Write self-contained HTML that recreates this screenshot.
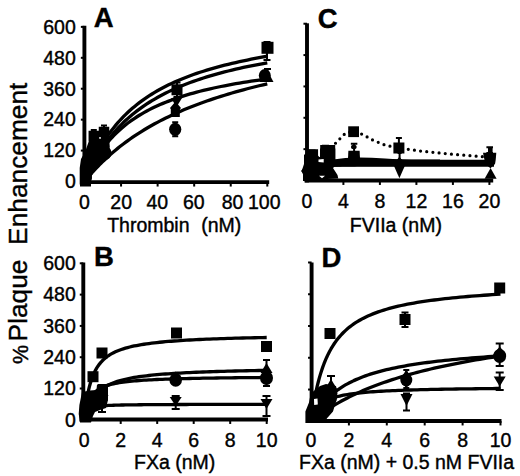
<!DOCTYPE html>
<html><head><meta charset="utf-8"><style>
html,body{margin:0;padding:0;background:#fff;}
svg{display:block;}
text{font-family:"Liberation Sans",sans-serif;fill:#000;stroke:#000;stroke-width:0.4px;}
</style></head><body>
<svg width="520" height="476" viewBox="0 0 520 476">
<rect width="520" height="476" fill="#fff"/>
<line x1="84.4" y1="25.8" x2="84.4" y2="184.04999999999998" stroke="#000" stroke-width="3.9"/>
<line x1="82.5" y1="182.1" x2="269.2" y2="182.1" stroke="#000" stroke-width="3.9"/>
<line x1="80.85000000000001" y1="150.576" x2="84.4" y2="150.576" stroke="#000" stroke-width="2"/>
<line x1="80.85000000000001" y1="119.652" x2="84.4" y2="119.652" stroke="#000" stroke-width="2"/>
<line x1="80.85000000000001" y1="88.72800000000001" x2="84.4" y2="88.72800000000001" stroke="#000" stroke-width="2"/>
<line x1="80.85000000000001" y1="57.804" x2="84.4" y2="57.804" stroke="#000" stroke-width="2"/>
<line x1="80.85000000000001" y1="26.879999999999995" x2="84.4" y2="26.879999999999995" stroke="#000" stroke-width="2"/>
<line x1="121.06" y1="182.1" x2="121.06" y2="186.54999999999998" stroke="#000" stroke-width="2"/>
<line x1="157.62" y1="182.1" x2="157.62" y2="186.54999999999998" stroke="#000" stroke-width="2"/>
<line x1="194.18" y1="182.1" x2="194.18" y2="186.54999999999998" stroke="#000" stroke-width="2"/>
<line x1="230.74" y1="182.1" x2="230.74" y2="186.54999999999998" stroke="#000" stroke-width="2"/>
<line x1="267.3" y1="182.1" x2="267.3" y2="186.54999999999998" stroke="#000" stroke-width="2"/>
<text x="75.8" y="188.3" font-size="19.5" text-anchor="end" font-weight="normal" >0</text>
<text x="75.8" y="157.376" font-size="19.5" text-anchor="end" font-weight="normal" >120</text>
<text x="75.8" y="126.452" font-size="19.5" text-anchor="end" font-weight="normal" >240</text>
<text x="75.8" y="95.528" font-size="19.5" text-anchor="end" font-weight="normal" >360</text>
<text x="75.8" y="64.604" font-size="19.5" text-anchor="end" font-weight="normal" >480</text>
<text x="75.8" y="33.67999999999999" font-size="19.5" text-anchor="end" font-weight="normal" >600</text>
<text x="84.5" y="208.5" font-size="19.5" text-anchor="middle" font-weight="normal" >0</text>
<text x="121.2" y="208.5" font-size="19.5" text-anchor="middle" font-weight="normal" >20</text>
<text x="157.3" y="208.5" font-size="19.5" text-anchor="middle" font-weight="normal" >40</text>
<text x="193.8" y="208.5" font-size="19.5" text-anchor="middle" font-weight="normal" >60</text>
<text x="232.6" y="208.5" font-size="19.5" text-anchor="middle" font-weight="normal" >80</text>
<text x="264.3" y="208.5" font-size="19.5" text-anchor="middle" font-weight="normal" >100</text>
<text x="107.2" y="231.5" font-size="19.5" text-anchor="start" font-weight="normal" >Thrombin</text>
<text x="201.2" y="231.5" font-size="19.5" text-anchor="start" font-weight="normal" >(nM)</text>
<text x="93.8" y="26.9" font-size="27.5" text-anchor="start" font-weight="bold" >A</text>
<polyline points="84.50,181.50 84.57,181.31 84.74,180.85 85.00,180.17 85.33,179.27 85.74,178.19 86.23,176.94 86.78,175.54 87.40,173.99 88.08,172.31 88.83,170.52 89.64,168.62 90.51,166.63 91.44,164.56 92.43,162.42 93.48,160.21 94.59,157.96 95.75,155.67 96.97,153.34 98.25,150.98 99.58,148.61 100.96,146.23 102.40,143.84 103.89,141.45 105.43,139.07 107.03,136.70 108.67,134.35 110.37,132.01 112.12,129.70 113.93,127.41 115.78,125.15 117.68,122.92 119.63,120.73 121.63,118.57 123.68,116.44 125.78,114.35 127.93,112.30 130.12,110.29 132.37,108.32 134.66,106.39 137.00,104.50 139.38,102.64 141.81,100.83 144.29,99.06 146.82,97.32 149.39,95.63 152.01,93.98 154.68,92.36 157.39,90.78 160.14,89.24 162.94,87.74 165.79,86.27 168.68,84.83 171.62,83.44 174.60,82.07 177.63,80.74 180.70,79.44 183.81,78.18 186.97,76.94 190.17,75.74 193.41,74.56 196.70,73.42 200.04,72.30 203.41,71.21 206.83,70.15 210.29,69.11 213.80,68.10 217.35,67.11 220.94,66.15 224.57,65.21 228.24,64.29 231.96,63.40 235.72,62.52 239.52,61.67 243.37,60.84 247.25,60.03 251.18,59.24 255.15,58.46 259.16,57.71 263.21,56.97 267.30,56.25" fill="none" stroke="#000" stroke-width="3.3" stroke-linejoin="round"/>
<polyline points="84.50,181.50 84.57,181.34 84.74,180.94 85.00,180.33 85.33,179.55 85.74,178.61 86.23,177.51 86.78,176.28 87.40,174.91 88.08,173.43 88.83,171.85 89.64,170.17 90.51,168.40 91.44,166.56 92.43,164.64 93.48,162.67 94.59,160.65 95.75,158.58 96.97,156.48 98.25,154.34 99.58,152.19 100.96,150.02 102.40,147.83 103.89,145.64 105.43,143.45 107.03,141.26 108.67,139.08 110.37,136.92 112.12,134.76 113.93,132.62 115.78,130.51 117.68,128.41 119.63,126.34 121.63,124.30 123.68,122.29 125.78,120.30 127.93,118.35 130.12,116.42 132.37,114.53 134.66,112.68 137.00,110.85 139.38,109.06 141.81,107.31 144.29,105.59 146.82,103.90 149.39,102.25 152.01,100.63 154.68,99.05 157.39,97.50 160.14,95.99 162.94,94.50 165.79,93.05 168.68,91.64 171.62,90.25 174.60,88.89 177.63,87.57 180.70,86.28 183.81,85.01 186.97,83.78 190.17,82.57 193.41,81.39 196.70,80.24 200.04,79.11 203.41,78.01 206.83,76.94 210.29,75.89 213.80,74.87 217.35,73.87 220.94,72.89 224.57,71.93 228.24,71.00 231.96,70.09 235.72,69.20 239.52,68.33 243.37,67.48 247.25,66.65 251.18,65.84 255.15,65.04 259.16,64.27 263.21,63.51 267.30,62.77" fill="none" stroke="#000" stroke-width="3.3" stroke-linejoin="round"/>
<polyline points="84.50,181.50 84.57,181.34 84.74,180.93 85.00,180.33 85.33,179.55 85.74,178.60 86.23,177.51 86.78,176.28 87.40,174.93 88.08,173.48 88.83,171.92 89.64,170.28 90.51,168.56 91.44,166.77 92.43,164.93 93.48,163.04 94.59,161.11 95.75,159.15 96.97,157.17 98.25,155.17 99.58,153.16 100.96,151.15 102.40,149.14 103.89,147.13 105.43,145.14 107.03,143.16 108.67,141.19 110.37,139.25 112.12,137.33 113.93,135.44 115.78,133.58 117.68,131.75 119.63,129.94 121.63,128.17 123.68,126.44 125.78,124.74 127.93,123.07 130.12,121.44 132.37,119.84 134.66,118.28 137.00,116.75 139.38,115.26 141.81,113.81 144.29,112.39 146.82,111.00 149.39,109.65 152.01,108.33 154.68,107.04 157.39,105.79 160.14,104.57 162.94,103.38 165.79,102.22 168.68,101.09 171.62,99.99 174.60,98.91 177.63,97.87 180.70,96.85 183.81,95.86 186.97,94.89 190.17,93.95 193.41,93.04 196.70,92.14 200.04,91.27 203.41,90.43 206.83,89.60 210.29,88.80 213.80,88.01 217.35,87.25 220.94,86.50 224.57,85.78 228.24,85.07 231.96,84.38 235.72,83.71 239.52,83.06 243.37,82.42 247.25,81.79 251.18,81.19 255.15,80.59 259.16,80.02 263.21,79.45 267.30,78.90" fill="none" stroke="#000" stroke-width="3.3" stroke-linejoin="round"/>
<polyline points="84.50,181.50 84.57,181.42 84.74,181.20 85.00,180.89 85.33,180.48 85.74,179.98 86.23,179.39 86.78,178.73 87.40,177.99 88.08,177.18 88.83,176.31 89.64,175.37 90.51,174.37 91.44,173.32 92.43,172.22 93.48,171.06 94.59,169.86 95.75,168.62 96.97,167.34 98.25,166.02 99.58,164.67 100.96,163.29 102.40,161.88 103.89,160.45 105.43,158.99 107.03,157.52 108.67,156.02 110.37,154.51 112.12,152.99 113.93,151.46 115.78,149.91 117.68,148.36 119.63,146.81 121.63,145.25 123.68,143.69 125.78,142.13 127.93,140.57 130.12,139.01 132.37,137.45 134.66,135.91 137.00,134.36 139.38,132.83 141.81,131.30 144.29,129.78 146.82,128.27 149.39,126.77 152.01,125.29 154.68,123.81 157.39,122.35 160.14,120.90 162.94,119.47 165.79,118.05 168.68,116.65 171.62,115.26 174.60,113.88 177.63,112.52 180.70,111.18 183.81,109.85 186.97,108.54 190.17,107.24 193.41,105.96 196.70,104.70 200.04,103.46 203.41,102.23 206.83,101.02 210.29,99.82 213.80,98.64 217.35,97.48 220.94,96.33 224.57,95.21 228.24,94.09 231.96,93.00 235.72,91.92 239.52,90.85 243.37,89.80 247.25,88.77 251.18,87.75 255.15,86.75 259.16,85.77 263.21,84.79 267.30,83.84" fill="none" stroke="#000" stroke-width="3.3" stroke-linejoin="round"/>
<rect x="261.50" y="41.80" width="12" height="12" fill="#000"/>
<path d="M267.00 42.00V60.00M263.50 42.00h7M263.50 60.00h7" stroke="#000" stroke-width="2" fill="none"/>
<polygon points="259.50,82.00 273.50,82.00 266.50,69.00" fill="#000"/>
<ellipse cx="264.80" cy="75.50" rx="6" ry="6.5" fill="#000"/>
<path d="M267.50 69.00V80.00M264.00 69.00h7M264.00 80.00h7" stroke="#000" stroke-width="2" fill="none"/>
<rect x="171.50" y="84.30" width="11" height="11" fill="#000"/>
<path d="M177.00 82.60V97.00M173.50 82.60h7M173.50 97.00h7" stroke="#000" stroke-width="2" fill="none"/>
<polygon points="171.00,98.00 182.00,98.00 176.50,107.00" fill="#000"/>
<polygon points="175.50,101.50 181.00,108.00 175.50,114.50 170.00,108.00" fill="#000"/>
<rect x="170.80" y="108.00" width="9" height="9" fill="#000"/>
<ellipse cx="175.20" cy="129.30" rx="6.1" ry="6.6" fill="#000"/>
<path d="M175.20 122.30V136.30M172.20 122.30h6M172.20 136.30h6" stroke="#000" stroke-width="2" fill="none"/>
<rect x="88.55" y="130.75" width="10.5" height="10.5" fill="#000"/>
<path d="M93.80 130.00V141.00M90.80 130.00h6M90.80 141.00h6" stroke="#000" stroke-width="2" fill="none"/>
<rect x="98.75" y="126.75" width="10.5" height="10.5" fill="#000"/>
<path d="M104.00 125.50V138.00M101.00 125.50h6M101.00 138.00h6" stroke="#000" stroke-width="2" fill="none"/>
<ellipse cx="98.00" cy="146.00" rx="7" ry="7.5" fill="#000"/>
<polygon points="101.00,143.00 107.00,150.00 101.00,157.00 95.00,150.00" fill="#000"/>
<ellipse cx="105.00" cy="153.00" rx="6.5" ry="7.0" fill="#000"/>
<ellipse cx="96.00" cy="158.00" rx="7" ry="7.5" fill="#000"/>
<polygon points="85.50,166.00 98.50,166.00 92.00,154.00" fill="#000"/>
<ellipse cx="90.00" cy="166.00" rx="6.5" ry="7.0" fill="#000"/>
<polygon points="88.00,166.00 93.00,172.00 88.00,178.00 83.00,172.00" fill="#000"/>
<ellipse cx="86.00" cy="178.00" rx="6" ry="6.5" fill="#000"/>
<rect x="80.00" y="175.50" width="11" height="11" fill="#000"/>
<polygon points="81.00,170.00 93.00,170.00 87.00,180.00" fill="#000"/>
<polygon points="88.9,141 98,139 109,137.5 109.8,147 108,153 106.5,160 102,163 98.7,167 93,172 91,179 91,184.5 79.7,184.5 79.7,168 81,159 85.3,151.3" fill="#000"/>
<line x1="83.3" y1="262.6" x2="83.3" y2="421.45" stroke="#000" stroke-width="3.9"/>
<line x1="81.7" y1="419.5" x2="268.0" y2="419.5" stroke="#000" stroke-width="3.9"/>
<line x1="79.75" y1="388.504" x2="83.3" y2="388.504" stroke="#000" stroke-width="2"/>
<line x1="79.75" y1="357.208" x2="83.3" y2="357.208" stroke="#000" stroke-width="2"/>
<line x1="79.75" y1="325.91200000000003" x2="83.3" y2="325.91200000000003" stroke="#000" stroke-width="2"/>
<line x1="79.75" y1="294.61600000000004" x2="83.3" y2="294.61600000000004" stroke="#000" stroke-width="2"/>
<line x1="79.75" y1="263.32000000000005" x2="83.3" y2="263.32000000000005" stroke="#000" stroke-width="2"/>
<line x1="120.7" y1="419.5" x2="120.7" y2="423.95" stroke="#000" stroke-width="2"/>
<line x1="157.2" y1="419.5" x2="157.2" y2="423.95" stroke="#000" stroke-width="2"/>
<line x1="193.7" y1="419.5" x2="193.7" y2="423.95" stroke="#000" stroke-width="2"/>
<line x1="230.2" y1="419.5" x2="230.2" y2="423.95" stroke="#000" stroke-width="2"/>
<line x1="266.7" y1="419.5" x2="266.7" y2="423.95" stroke="#000" stroke-width="2"/>
<text x="75.8" y="426.6" font-size="19.5" text-anchor="end" font-weight="normal" >0</text>
<text x="75.8" y="395.30400000000003" font-size="19.5" text-anchor="end" font-weight="normal" >120</text>
<text x="75.8" y="364.00800000000004" font-size="19.5" text-anchor="end" font-weight="normal" >240</text>
<text x="75.8" y="332.71200000000005" font-size="19.5" text-anchor="end" font-weight="normal" >360</text>
<text x="75.8" y="301.41600000000005" font-size="19.5" text-anchor="end" font-weight="normal" >480</text>
<text x="75.8" y="270.12000000000006" font-size="19.5" text-anchor="end" font-weight="normal" >600</text>
<text x="84.2" y="446.5" font-size="19.5" text-anchor="middle" font-weight="normal" >0</text>
<text x="120.7" y="446.5" font-size="19.5" text-anchor="middle" font-weight="normal" >2</text>
<text x="157.2" y="446.5" font-size="19.5" text-anchor="middle" font-weight="normal" >4</text>
<text x="193.7" y="446.5" font-size="19.5" text-anchor="middle" font-weight="normal" >6</text>
<text x="230.2" y="446.5" font-size="19.5" text-anchor="middle" font-weight="normal" >8</text>
<text x="266.7" y="446.5" font-size="19.5" text-anchor="middle" font-weight="normal" >10</text>
<text x="134" y="468.5" font-size="19.5" text-anchor="start" font-weight="normal" >FXa (nM)</text>
<text x="93.9" y="266" font-size="27.5" text-anchor="start" font-weight="bold" >B</text>
<polyline points="84.20,419.80 84.27,419.10 84.44,417.40 84.69,414.96 85.03,411.97 85.44,408.61 85.92,405.01 86.47,401.30 87.09,397.57 87.78,393.90 88.52,390.34 89.33,386.93 90.20,383.70 91.13,380.65 92.12,377.79 93.17,375.11 94.27,372.63 95.43,370.32 96.65,368.17 97.92,366.18 99.25,364.34 100.63,362.63 102.07,361.04 103.56,359.57 105.10,358.21 106.69,356.94 108.34,355.77 110.03,354.67 111.78,353.65 113.58,352.70 115.43,351.81 117.32,350.99 119.27,350.21 121.27,349.49 123.32,348.81 125.41,348.17 127.56,347.57 129.75,347.01 131.99,346.48 134.27,345.98 136.61,345.51 138.99,345.06 141.42,344.64 143.90,344.25 146.42,343.87 148.99,343.51 151.60,343.18 154.26,342.86 156.97,342.55 159.72,342.26 162.52,341.99 165.36,341.72 168.24,341.47 171.18,341.24 174.15,341.01 177.17,340.79 180.24,340.59 183.35,340.39 186.50,340.20 189.70,340.02 192.94,339.84 196.22,339.68 199.55,339.52 202.92,339.36 206.33,339.22 209.79,339.07 213.29,338.94 216.83,338.81 220.41,338.68 224.04,338.56 227.71,338.44 231.42,338.33 235.17,338.22 238.97,338.12 242.81,338.02 246.68,337.92 250.60,337.83 254.57,337.74 258.57,337.65 262.61,337.56 266.70,337.48" fill="none" stroke="#000" stroke-width="3.3" stroke-linejoin="round"/>
<polyline points="84.20,419.80 84.27,419.51 84.44,418.81 84.69,417.78 85.03,416.50 85.44,415.01 85.92,413.38 86.47,411.65 87.09,409.85 87.78,408.02 88.52,406.20 89.33,404.39 90.20,402.63 91.13,400.92 92.12,399.27 93.17,397.69 94.27,396.19 95.43,394.75 96.65,393.40 97.92,392.11 99.25,390.90 100.63,389.75 102.07,388.68 103.56,387.66 105.10,386.70 106.69,385.80 108.34,384.96 110.03,384.16 111.78,383.41 113.58,382.70 115.43,382.04 117.32,381.41 119.27,380.82 121.27,380.26 123.32,379.73 125.41,379.23 127.56,378.76 129.75,378.31 131.99,377.89 134.27,377.49 136.61,377.11 138.99,376.75 141.42,376.41 143.90,376.09 146.42,375.78 148.99,375.49 151.60,375.21 154.26,374.94 156.97,374.69 159.72,374.45 162.52,374.22 165.36,374.00 168.24,373.79 171.18,373.59 174.15,373.39 177.17,373.21 180.24,373.03 183.35,372.86 186.50,372.70 189.70,372.55 192.94,372.40 196.22,372.25 199.55,372.11 202.92,371.98 206.33,371.86 209.79,371.73 213.29,371.61 216.83,371.50 220.41,371.39 224.04,371.29 227.71,371.18 231.42,371.09 235.17,370.99 238.97,370.90 242.81,370.81 246.68,370.73 250.60,370.64 254.57,370.56 258.57,370.49 262.61,370.41 266.70,370.34" fill="none" stroke="#000" stroke-width="3.3" stroke-linejoin="round"/>
<polyline points="84.20,419.80 84.27,419.34 84.44,418.22 84.69,416.65 85.03,414.76 85.44,412.67 85.92,410.49 86.47,408.30 87.09,406.14 87.78,404.08 88.52,402.12 89.33,400.28 90.20,398.58 91.13,397.00 92.12,395.55 93.17,394.21 94.27,392.99 95.43,391.87 96.65,390.84 97.92,389.90 99.25,389.04 100.63,388.25 102.07,387.52 103.56,386.86 105.10,386.24 106.69,385.68 108.34,385.15 110.03,384.67 111.78,384.22 113.58,383.81 115.43,383.43 117.32,383.07 119.27,382.74 121.27,382.43 123.32,382.14 125.41,381.87 127.56,381.61 129.75,381.37 131.99,381.15 134.27,380.94 136.61,380.75 138.99,380.56 141.42,380.39 143.90,380.22 146.42,380.06 148.99,379.92 151.60,379.78 154.26,379.65 156.97,379.52 159.72,379.40 162.52,379.29 165.36,379.18 168.24,379.08 171.18,378.98 174.15,378.89 177.17,378.80 180.24,378.72 183.35,378.64 186.50,378.56 189.70,378.49 192.94,378.42 196.22,378.35 199.55,378.28 202.92,378.22 206.33,378.16 209.79,378.11 213.29,378.05 216.83,378.00 220.41,377.95 224.04,377.90 227.71,377.85 231.42,377.81 235.17,377.76 238.97,377.72 242.81,377.68 246.68,377.64 250.60,377.61 254.57,377.57 258.57,377.53 262.61,377.50 266.70,377.47" fill="none" stroke="#000" stroke-width="3.3" stroke-linejoin="round"/>
<polyline points="84.20,419.80 84.27,419.33 84.44,418.26 84.69,416.92 85.03,415.50 85.44,414.14 85.92,412.91 86.47,411.83 87.09,410.89 87.78,410.10 88.52,409.41 89.33,408.83 90.20,408.34 91.13,407.91 92.12,407.54 93.17,407.22 94.27,406.95 95.43,406.70 96.65,406.49 97.92,406.31 99.25,406.14 100.63,405.99 102.07,405.86 103.56,405.74 105.10,405.64 106.69,405.54 108.34,405.45 110.03,405.37 111.78,405.30 113.58,405.24 115.43,405.18 117.32,405.12 119.27,405.07 121.27,405.02 123.32,404.98 125.41,404.94 127.56,404.90 129.75,404.87 131.99,404.84 134.27,404.81 136.61,404.78 138.99,404.75 141.42,404.73 143.90,404.71 146.42,404.68 148.99,404.66 151.60,404.64 154.26,404.63 156.97,404.61 159.72,404.59 162.52,404.58 165.36,404.56 168.24,404.55 171.18,404.54 174.15,404.52 177.17,404.51 180.24,404.50 183.35,404.49 186.50,404.48 189.70,404.47 192.94,404.46 196.22,404.45 199.55,404.44 202.92,404.44 206.33,404.43 209.79,404.42 213.29,404.41 216.83,404.41 220.41,404.40 224.04,404.39 227.71,404.39 231.42,404.38 235.17,404.38 238.97,404.37 242.81,404.37 246.68,404.36 250.60,404.36 254.57,404.35 258.57,404.35 262.61,404.34 266.70,404.34" fill="none" stroke="#000" stroke-width="3.3" stroke-linejoin="round"/>
<rect x="87.50" y="371.20" width="11" height="11" fill="#000"/>
<rect x="96.50" y="347.50" width="11" height="11" fill="#000"/>
<rect x="171.00" y="327.50" width="11" height="11" fill="#000"/>
<rect x="261.00" y="341.00" width="11" height="11" fill="#000"/>
<ellipse cx="175.70" cy="380.00" rx="6.3" ry="6.8" fill="#000"/>
<polygon points="175.70,371.50 181.70,378.00 175.70,384.50 169.70,378.00" fill="#000"/>
<polygon points="169.70,397.00 181.70,397.00 175.70,406.00" fill="#000"/>
<path d="M175.70 396.00V409.00M171.70 396.00h8M171.70 409.00h8" stroke="#000" stroke-width="2" fill="none"/>
<polygon points="260.50,373.00 272.50,373.00 266.50,363.00" fill="#000"/>
<path d="M266.50 360.00V386.00M263.00 360.00h7M263.00 386.00h7" stroke="#000" stroke-width="2" fill="none"/>
<polygon points="266.50,369.00 272.50,376.00 266.50,383.00 260.50,376.00" fill="#000"/>
<ellipse cx="266.50" cy="378.00" rx="6.5" ry="7.0" fill="#000"/>
<polygon points="260.50,399.00 272.50,399.00 266.50,409.00" fill="#000"/>
<path d="M266.50 396.00V416.00M262.50 396.00h8M262.50 416.00h8" stroke="#000" stroke-width="2" fill="none"/>
<polygon points="95.50,396.00 108.50,396.00 102.00,384.00" fill="#000"/>
<ellipse cx="101.00" cy="396.00" rx="7" ry="7.5" fill="#000"/>
<polygon points="102.00,393.00 108.00,400.00 102.00,407.00 96.00,400.00" fill="#000"/>
<path d="M102.00 385.00V412.00M98.00 385.00h8M98.00 412.00h8" stroke="#000" stroke-width="2" fill="none"/>
<ellipse cx="92.00" cy="398.00" rx="6.5" ry="7.0" fill="#000"/>
<polygon points="90.00,397.50 95.50,404.00 90.00,410.50 84.50,404.00" fill="#000"/>
<ellipse cx="87.00" cy="410.00" rx="6.5" ry="7.0" fill="#000"/>
<rect x="79.50" y="410.50" width="11" height="11" fill="#000"/>
<polygon points="81.00,408.00 93.00,408.00 87.00,418.00" fill="#000"/>
<polygon points="82,392 90,390.5 96.5,390 97,384.5 108,384.5 108,400 106,408 100,410 95,412 93,416 91,422.5 80,422.5 78.7,414 79.4,405" fill="#000"/>
<line x1="307.0" y1="23.3" x2="307.0" y2="182.45" stroke="#000" stroke-width="3.9"/>
<line x1="304.5" y1="180.5" x2="493.2" y2="180.5" stroke="#000" stroke-width="3.9"/>
<line x1="303.45" y1="149.144" x2="307.0" y2="149.144" stroke="#000" stroke-width="2"/>
<line x1="303.45" y1="117.78800000000001" x2="307.0" y2="117.78800000000001" stroke="#000" stroke-width="2"/>
<line x1="303.45" y1="86.432" x2="307.0" y2="86.432" stroke="#000" stroke-width="2"/>
<line x1="303.45" y1="55.07600000000001" x2="307.0" y2="55.07600000000001" stroke="#000" stroke-width="2"/>
<line x1="303.45" y1="23.720000000000027" x2="307.0" y2="23.720000000000027" stroke="#000" stroke-width="2"/>
<line x1="343.4" y1="180.5" x2="343.4" y2="184.95" stroke="#000" stroke-width="2"/>
<line x1="379.9" y1="180.5" x2="379.9" y2="184.95" stroke="#000" stroke-width="2"/>
<line x1="416.4" y1="180.5" x2="416.4" y2="184.95" stroke="#000" stroke-width="2"/>
<line x1="452.9" y1="180.5" x2="452.9" y2="184.95" stroke="#000" stroke-width="2"/>
<line x1="489.4" y1="180.5" x2="489.4" y2="184.95" stroke="#000" stroke-width="2"/>
<text x="306.9" y="207.5" font-size="19.5" text-anchor="middle" font-weight="normal" >0</text>
<text x="343.4" y="207.5" font-size="19.5" text-anchor="middle" font-weight="normal" >4</text>
<text x="379.9" y="207.5" font-size="19.5" text-anchor="middle" font-weight="normal" >8</text>
<text x="416.4" y="207.5" font-size="19.5" text-anchor="middle" font-weight="normal" >12</text>
<text x="452.9" y="207.5" font-size="19.5" text-anchor="middle" font-weight="normal" >16</text>
<text x="489.4" y="207.5" font-size="19.5" text-anchor="middle" font-weight="normal" >20</text>
<text x="349.8" y="231.5" font-size="19.5" text-anchor="start" font-weight="normal" >FVIIa (nM)</text>
<text x="317.7" y="27.5" font-size="27.5" text-anchor="start" font-weight="bold" >C</text>
<path d="M322.0 156.0 L329.0 150.0 L336.9 141.8 L345.7 132.9 L353.5 131.4 L362.6 134.4 L372.9 140.2 L385.4 145.2 L398.8 148.0 L420.0 151.0 L445.2 153.6 L470.0 155.7 L489.5 157.3" fill="none" stroke="#000" stroke-width="3.2" stroke-linecap="round" stroke-dasharray="0 6.2"/>
<line x1="330" y1="161.3" x2="494" y2="161.3" stroke="#000" stroke-width="3"/>
<line x1="330" y1="163.4" x2="494" y2="163.4" stroke="#000" stroke-width="3"/>
<line x1="330" y1="165.3" x2="494" y2="165.3" stroke="#000" stroke-width="3"/>
<polyline points="306.90,180.50 306.97,180.17 307.14,179.41 307.39,178.38 307.73,177.21 308.14,175.99 308.62,174.80 309.17,173.68 309.79,172.64 310.48,171.71 311.22,170.87 312.03,170.12 312.90,169.45 313.83,168.86 314.82,168.34 315.87,167.87 316.97,167.46 318.13,167.09 319.35,166.76 320.62,166.46 321.95,166.20 323.33,165.96 324.77,165.75 326.26,165.55 327.80,165.37 329.39,165.21 331.04,165.07 332.73,164.93 334.48,164.81 336.28,164.70 338.13,164.59 340.02,164.50 341.97,164.41 343.97,164.32 346.02,164.25 348.11,164.18 350.26,164.11 352.45,164.05 354.69,163.99 356.97,163.94 359.31,163.89 361.69,163.84 364.12,163.80 366.60,163.76 369.12,163.72 371.69,163.68 374.30,163.64 376.96,163.61 379.67,163.58 382.42,163.55 385.22,163.52 388.06,163.50 390.94,163.47 393.88,163.45 396.85,163.42 399.87,163.40 402.94,163.38 406.05,163.36 409.20,163.34 412.40,163.33 415.64,163.31 418.92,163.29 422.25,163.28 425.62,163.26 429.03,163.25 432.49,163.23 435.99,163.22 439.53,163.21 443.11,163.20 446.74,163.18 450.41,163.17 454.12,163.16 457.87,163.15 461.67,163.14 465.51,163.13 469.38,163.12 473.30,163.11 477.27,163.10 481.27,163.10 485.31,163.09 489.40,163.08" fill="none" stroke="#000" stroke-width="3" stroke-linejoin="round"/>
<polyline points="306.90,180.50 306.97,179.91 307.14,178.63 307.39,177.04 307.73,175.43 308.14,173.94 308.62,172.63 309.17,171.51 309.79,170.57 310.48,169.77 311.22,169.11 312.03,168.55 312.90,168.08 313.83,167.68 314.82,167.33 315.87,167.04 316.97,166.78 318.13,166.56 319.35,166.37 320.62,166.20 321.95,166.05 323.33,165.92 324.77,165.80 326.26,165.70 327.80,165.60 329.39,165.52 331.04,165.44 332.73,165.37 334.48,165.30 336.28,165.25 338.13,165.19 340.02,165.15 341.97,165.10 343.97,165.06 346.02,165.02 348.11,164.99 350.26,164.95 352.45,164.92 354.69,164.90 356.97,164.87 359.31,164.84 361.69,164.82 364.12,164.80 366.60,164.78 369.12,164.76 371.69,164.74 374.30,164.73 376.96,164.71 379.67,164.70 382.42,164.68 385.22,164.67 388.06,164.66 390.94,164.64 393.88,164.63 396.85,164.62 399.87,164.61 402.94,164.60 406.05,164.59 409.20,164.58 412.40,164.57 415.64,164.57 418.92,164.56 422.25,164.55 425.62,164.54 429.03,164.54 432.49,164.53 435.99,164.53 439.53,164.52 443.11,164.51 446.74,164.51 450.41,164.50 454.12,164.50 457.87,164.49 461.67,164.49 465.51,164.48 469.38,164.48 473.30,164.48 477.27,164.47 481.27,164.47 485.31,164.46 489.40,164.46" fill="none" stroke="#000" stroke-width="3" stroke-linejoin="round"/>
<rect x="348.20" y="126.30" width="10.8" height="10.8" fill="#000"/>
<rect x="393.40" y="142.50" width="11" height="11" fill="#000"/>
<path d="M398.90 138.00V150.00M395.90 138.00h6M395.90 150.00h6" stroke="#000" stroke-width="2" fill="none"/>
<path d="M354.10 143.80V152.00M350.85 143.80h6.5M350.85 152.00h6.5" stroke="#000" stroke-width="2" fill="none"/>
<ellipse cx="353.8" cy="147" rx="2.8" ry="2.2" fill="#000"/>
<polygon points="348.4,150.8 359.6,150.8 360,158 348,158" fill="#000"/>
<path d="M334 161 C345 158.8, 365 158.5, 385 160 S 420 161, 440 161" fill="none" stroke="#000" stroke-width="3"/>
<polygon points="399.40,156.50 404.65,164.00 399.40,171.50 394.15,164.00" fill="#000"/>
<polygon points="393.90,165.75 404.90,165.75 399.40,178.25" fill="#000"/>
<path d="M399.60 153.00V160.00M397.60 153.00h4M397.60 160.00h4" stroke="#000" stroke-width="2" fill="none"/>
<path d="M489.70 147.30V153.00M486.40 147.30h6.6M486.40 153.00h6.6" stroke="#000" stroke-width="2" fill="none"/>
<rect x="488" y="148" width="4.6" height="5.5" fill="#000"/>
<polygon points="483,152.8 496.3,152.8 495.7,160 495,164 490.4,168.3 485.5,164 484.5,160" fill="#000"/>
<polygon points="484.60,178.80 496.60,178.80 490.60,168.00" fill="#000"/>
<rect x="308.55" y="149.25" width="9.5" height="9.5" fill="#000"/>
<path d="M313.30 151.00V158.00M309.80 151.00h7M309.80 158.00h7" stroke="#000" stroke-width="2" fill="none"/>
<rect x="320.20" y="145.00" width="15" height="15" fill="#000"/>
<path d="M327.70 146.00V155.00M323.70 146.00h8M323.70 155.00h8" stroke="#000" stroke-width="2" fill="none"/>
<polygon points="323.00,178.00 337.00,178.00 330.00,168.00" fill="#000"/>
<polygon points="311.50,178.00 324.50,178.00 318.00,168.00" fill="#000"/>
<polygon points="307.00,164.00 313.00,171.00 307.00,178.00 301.00,171.00" fill="#000"/>
<ellipse cx="312.00" cy="165.00" rx="6.5" ry="7.0" fill="#000"/>
<ellipse cx="322.00" cy="164.00" rx="6.5" ry="7.0" fill="#000"/>
<polygon points="317.00,154.50 323.00,161.00 317.00,167.50 311.00,161.00" fill="#000"/>
<rect x="303.00" y="171.00" width="10" height="10" fill="#000"/>
<polygon points="306.00,174.00 316.00,174.00 311.00,182.00" fill="#000"/>
<polygon points="304,155 308.5,150.5 316,150.5 316,157 320,157 320,148.4 335.3,148.4 335.3,160 336,165 333,168 337.5,175 338.3,178.5 304,180 304,177 301.7,171 304,164" fill="#000"/>
<path d="M312.00 150.50V156.00M308.50 150.50h7M308.50 156.00h7" stroke="#000" stroke-width="2" fill="none"/>
<path d="M325.50 145.80V150.00M322.00 145.80h7M322.00 150.00h7" stroke="#000" stroke-width="2" fill="none"/>
<polygon points="318.5,159.5 323.7,159 323.7,162.5 318.5,162" fill="#fff"/>
<polygon points="319,175.7 325,175.7 322,178.3" fill="#fff"/>
<line x1="311.6" y1="262.6" x2="311.6" y2="422.95" stroke="#000" stroke-width="3.9"/>
<line x1="309.2" y1="421.0" x2="501.5" y2="421.0" stroke="#000" stroke-width="3.9"/>
<line x1="308.05" y1="389.536" x2="311.6" y2="389.536" stroke="#000" stroke-width="2"/>
<line x1="308.05" y1="357.772" x2="311.6" y2="357.772" stroke="#000" stroke-width="2"/>
<line x1="308.05" y1="326.00800000000004" x2="311.6" y2="326.00800000000004" stroke="#000" stroke-width="2"/>
<line x1="308.05" y1="294.244" x2="311.6" y2="294.244" stroke="#000" stroke-width="2"/>
<line x1="308.05" y1="262.48" x2="311.6" y2="262.48" stroke="#000" stroke-width="2"/>
<line x1="348.9" y1="421.0" x2="348.9" y2="425.45" stroke="#000" stroke-width="2"/>
<line x1="386.8" y1="421.0" x2="386.8" y2="425.45" stroke="#000" stroke-width="2"/>
<line x1="424.7" y1="421.0" x2="424.7" y2="425.45" stroke="#000" stroke-width="2"/>
<line x1="462.6" y1="421.0" x2="462.6" y2="425.45" stroke="#000" stroke-width="2"/>
<line x1="500.5" y1="421.0" x2="500.5" y2="425.45" stroke="#000" stroke-width="2"/>
<text x="311.0" y="446.5" font-size="19.5" text-anchor="middle" font-weight="normal" >0</text>
<text x="348.9" y="446.5" font-size="19.5" text-anchor="middle" font-weight="normal" >2</text>
<text x="386.8" y="446.5" font-size="19.5" text-anchor="middle" font-weight="normal" >4</text>
<text x="424.7" y="446.5" font-size="19.5" text-anchor="middle" font-weight="normal" >6</text>
<text x="462.6" y="446.5" font-size="19.5" text-anchor="middle" font-weight="normal" >8</text>
<text x="500.5" y="446.5" font-size="19.5" text-anchor="middle" font-weight="normal" >10</text>
<text x="299" y="469" font-size="19.5" text-anchor="start" font-weight="normal" >FXa (nM) + 0.5 nM FVIIa</text>
<text x="321.4" y="266.7" font-size="27.5" text-anchor="start" font-weight="bold" >D</text>
<polyline points="311.00,421.30 311.07,420.77 311.25,419.46 311.51,417.53 311.86,415.09 312.29,412.23 312.79,409.01 313.36,405.53 314.00,401.84 314.71,398.01 315.49,394.09 316.33,390.14 317.23,386.19 318.20,382.27 319.22,378.41 320.31,374.63 321.46,370.96 322.66,367.40 323.93,363.96 325.25,360.64 326.63,357.46 328.06,354.41 329.55,351.49 331.10,348.70 332.70,346.04 334.35,343.50 336.06,341.08 337.82,338.77 339.64,336.58 341.50,334.49 343.42,332.50 345.40,330.61 347.42,328.82 349.49,327.10 351.62,325.47 353.79,323.92 356.02,322.45 358.29,321.04 360.62,319.70 363.00,318.42 365.42,317.20 367.89,316.04 370.41,314.93 372.99,313.87 375.60,312.86 378.27,311.89 380.99,310.97 383.75,310.08 386.56,309.24 389.42,308.43 392.32,307.65 395.27,306.91 398.27,306.20 401.31,305.51 404.40,304.86 407.54,304.23 410.72,303.62 413.95,303.04 417.22,302.48 420.54,301.94 423.91,301.43 427.32,300.93 430.77,300.45 434.27,299.99 437.82,299.54 441.40,299.12 445.04,298.70 448.72,298.30 452.44,297.92 456.20,297.55 460.01,297.19 463.87,296.84 467.76,296.50 471.70,296.18 475.69,295.87 479.72,295.56 483.79,295.27 487.90,294.98 492.06,294.71 496.26,294.44 500.50,294.18" fill="none" stroke="#000" stroke-width="3.3" stroke-linejoin="round"/>
<polyline points="311.00,421.30 311.07,421.16 311.25,420.82 311.51,420.31 311.86,419.65 312.29,418.87 312.79,417.96 313.36,416.95 314.00,415.85 314.71,414.67 315.49,413.42 316.33,412.12 317.23,410.77 318.20,409.38 319.22,407.96 320.31,406.53 321.46,405.08 322.66,403.63 323.93,402.17 325.25,400.72 326.63,399.28 328.06,397.86 329.55,396.45 331.10,395.07 332.70,393.70 334.35,392.37 336.06,391.06 337.82,389.78 339.64,388.52 341.50,387.30 343.42,386.11 345.40,384.95 347.42,383.82 349.49,382.72 351.62,381.66 353.79,380.62 356.02,379.62 358.29,378.64 360.62,377.69 363.00,376.78 365.42,375.89 367.89,375.03 370.41,374.19 372.99,373.38 375.60,372.60 378.27,371.84 380.99,371.11 383.75,370.40 386.56,369.71 389.42,369.04 392.32,368.40 395.27,367.77 398.27,367.16 401.31,366.58 404.40,366.01 407.54,365.46 410.72,364.92 413.95,364.41 417.22,363.90 420.54,363.42 423.91,362.95 427.32,362.49 430.77,362.05 434.27,361.62 437.82,361.20 441.40,360.79 445.04,360.40 448.72,360.02 452.44,359.65 456.20,359.29 460.01,358.94 463.87,358.60 467.76,358.27 471.70,357.95 475.69,357.64 479.72,357.34 483.79,357.04 487.90,356.76 492.06,356.48 496.26,356.21 500.50,355.94" fill="none" stroke="#000" stroke-width="3.3" stroke-linejoin="round"/>
<polyline points="311.00,421.30 311.07,421.24 311.25,421.10 311.51,420.89 311.86,420.61 312.29,420.27 312.79,419.87 313.36,419.43 314.00,418.93 314.71,418.38 315.49,417.79 316.33,417.16 317.23,416.48 318.20,415.77 319.22,415.03 320.31,414.25 321.46,413.44 322.66,412.60 323.93,411.74 325.25,410.85 326.63,409.94 328.06,409.01 329.55,408.06 331.10,407.10 332.70,406.12 334.35,405.13 336.06,404.12 337.82,403.11 339.64,402.08 341.50,401.05 343.42,400.02 345.40,398.98 347.42,397.93 349.49,396.89 351.62,395.84 353.79,394.79 356.02,393.75 358.29,392.70 360.62,391.66 363.00,390.63 365.42,389.60 367.89,388.57 370.41,387.55 372.99,386.53 375.60,385.52 378.27,384.52 380.99,383.53 383.75,382.55 386.56,381.57 389.42,380.61 392.32,379.65 395.27,378.71 398.27,377.77 401.31,376.84 404.40,375.93 407.54,375.02 410.72,374.13 413.95,373.25 417.22,372.37 420.54,371.51 423.91,370.66 427.32,369.82 430.77,369.00 434.27,368.18 437.82,367.38 441.40,366.58 445.04,365.80 448.72,365.03 452.44,364.27 456.20,363.52 460.01,362.78 463.87,362.06 467.76,361.34 471.70,360.64 475.69,359.94 479.72,359.26 483.79,358.59 487.90,357.92 492.06,357.27 496.26,356.63 500.50,356.00" fill="none" stroke="#000" stroke-width="3.3" stroke-linejoin="round"/>
<polyline points="311.00,421.30 311.07,421.07 311.25,420.52 311.51,419.71 311.86,418.71 312.29,417.57 312.79,416.33 313.36,415.03 314.00,413.70 314.71,412.37 315.49,411.06 316.33,409.78 317.23,408.54 318.20,407.36 319.22,406.24 320.31,405.17 321.46,404.17 322.66,403.22 323.93,402.33 325.25,401.50 326.63,400.72 328.06,399.99 329.55,399.31 331.10,398.68 332.70,398.08 334.35,397.52 336.06,397.00 337.82,396.52 339.64,396.06 341.50,395.63 343.42,395.23 345.40,394.86 347.42,394.50 349.49,394.17 351.62,393.86 353.79,393.56 356.02,393.29 358.29,393.03 360.62,392.78 363.00,392.55 365.42,392.32 367.89,392.12 370.41,391.92 372.99,391.73 375.60,391.55 378.27,391.39 380.99,391.23 383.75,391.07 386.56,390.93 389.42,390.79 392.32,390.66 395.27,390.53 398.27,390.41 401.31,390.30 404.40,390.19 407.54,390.09 410.72,389.99 413.95,389.89 417.22,389.80 420.54,389.71 423.91,389.63 427.32,389.55 430.77,389.47 434.27,389.40 437.82,389.32 441.40,389.26 445.04,389.19 448.72,389.13 452.44,389.06 456.20,389.01 460.01,388.95 463.87,388.89 467.76,388.84 471.70,388.79 475.69,388.74 479.72,388.69 483.79,388.65 487.90,388.60 492.06,388.56 496.26,388.52 500.50,388.48" fill="none" stroke="#000" stroke-width="3.3" stroke-linejoin="round"/>
<rect x="324.50" y="328.00" width="11" height="11" fill="#000"/>
<rect x="399.50" y="314.00" width="11" height="11" fill="#000"/>
<path d="M405.00 312.50V327.00M401.50 312.50h7M401.50 327.00h7" stroke="#000" stroke-width="2" fill="none"/>
<rect x="494.20" y="282.50" width="11" height="11" fill="#000"/>
<polygon points="499.70,346.50 506.20,354.50 499.70,362.50 493.20,354.50" fill="#000"/>
<ellipse cx="499.70" cy="356.00" rx="6.5" ry="7.0" fill="#000"/>
<path d="M499.70 343.50V366.00M495.70 343.50h8M495.70 366.00h8" stroke="#000" stroke-width="2" fill="none"/>
<polygon points="493.70,376.50 505.70,376.50 499.70,386.50" fill="#000"/>
<path d="M499.70 372.50V390.00M495.70 372.50h8M495.70 390.00h8" stroke="#000" stroke-width="2" fill="none"/>
<ellipse cx="406.30" cy="380.00" rx="6" ry="6.5" fill="#000"/>
<polygon points="406.30,369.50 412.05,379.00 406.30,388.50 400.55,379.00" fill="#000"/>
<path d="M406.30 370.00V388.00M403.30 370.00h6M403.30 388.00h6" stroke="#000" stroke-width="2" fill="none"/>
<polygon points="400.50,394.00 412.50,394.00 406.50,406.00" fill="#000"/>
<path d="M406.50 393.50V410.50M403.00 393.50h7M403.00 410.50h7" stroke="#000" stroke-width="2" fill="none"/>
<polygon points="325.00,389.00 337.00,389.00 331.00,379.00" fill="#000"/>
<path d="M331.00 376.00V392.00M327.00 376.00h8M327.00 392.00h8" stroke="#000" stroke-width="2" fill="none"/>
<ellipse cx="325.00" cy="395.00" rx="7" ry="7.5" fill="#000"/>
<polygon points="320.00,393.00 326.00,400.00 320.00,407.00 314.00,400.00" fill="#000"/>
<ellipse cx="330.00" cy="398.00" rx="7" ry="7.5" fill="#000"/>
<rect x="318.50" y="399.50" width="11" height="11" fill="#000"/>
<polygon points="312.00,403.00 324.00,403.00 318.00,413.00" fill="#000"/>
<ellipse cx="315.00" cy="412.00" rx="6.5" ry="7.0" fill="#000"/>
<rect x="307.50" y="411.50" width="11" height="11" fill="#000"/>
<polygon points="320.00,408.00 325.50,414.00 320.00,420.00 314.50,414.00" fill="#000"/>
<polygon points="310.7,393.6 320,386 326,384 336,386 337.5,393.6 335.7,402.5 333,411.4 326.8,418.6 326,423 305.4,423 305.4,411.4 309,402.5" fill="#000"/>
<polygon points="314,399 317.5,398.5 317.8,404.5 314.2,405" fill="#fff"/>
<text transform="translate(28.1,363.9) rotate(-90)" font-size="21.5">%</text>
<text transform="translate(27.2,341.4) rotate(-90)" font-size="26.3" xml:space="preserve">Plaque  Enhancement</text>
</svg>
</body></html>
